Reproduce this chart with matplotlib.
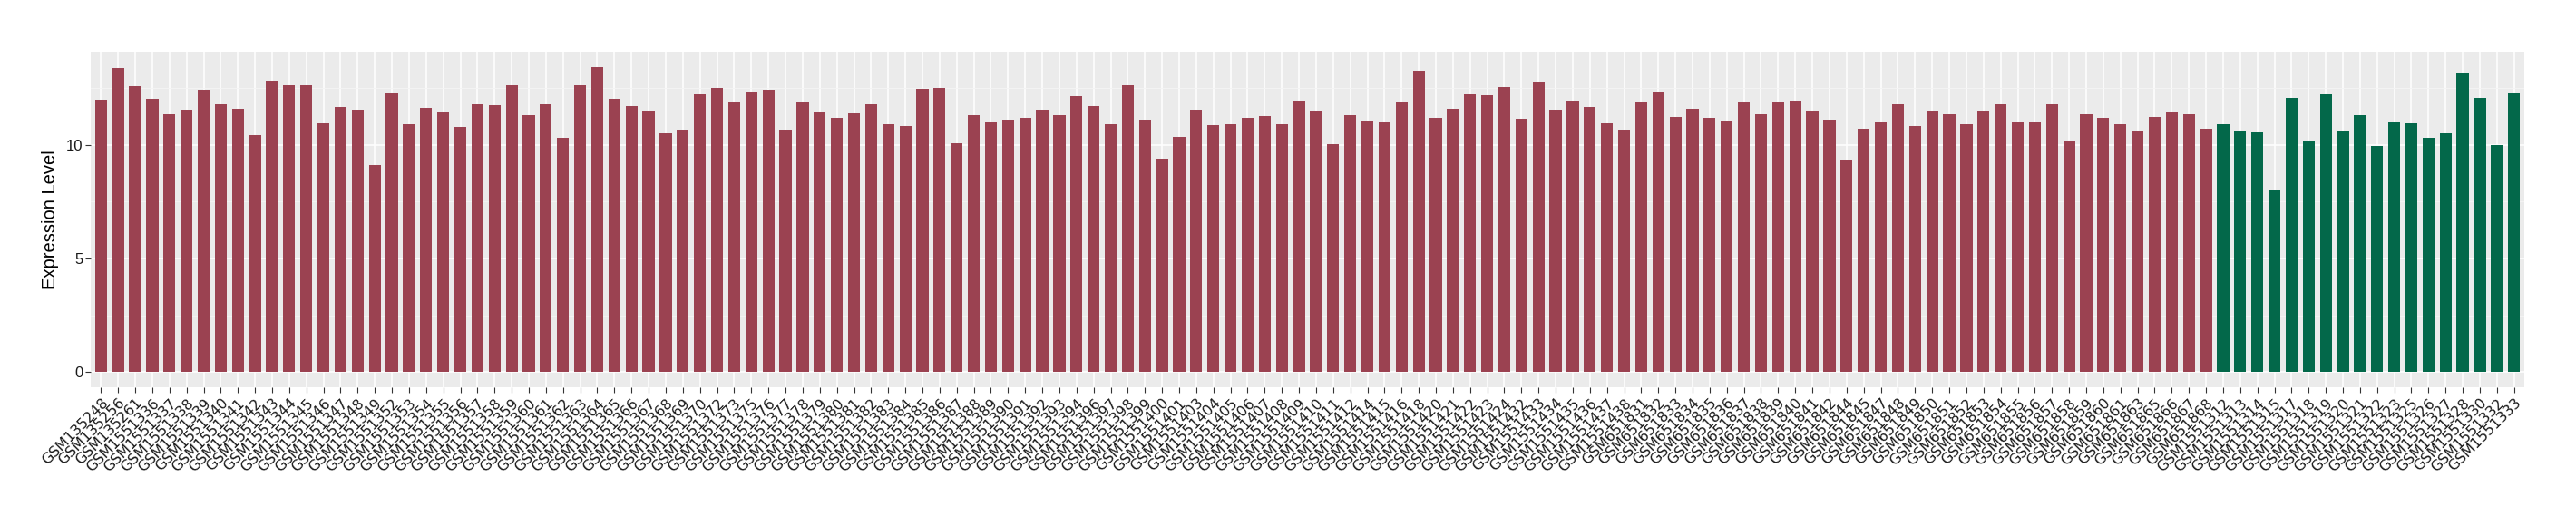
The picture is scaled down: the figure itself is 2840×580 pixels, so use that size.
import matplotlib
matplotlib.use("Agg")
import matplotlib.pyplot as plt
from matplotlib.ticker import MultipleLocator

samples = [
    "GSM135248", "GSM135256", "GSM135261", "GSM1551336", "GSM1551337", "GSM1551338",
    "GSM1551339", "GSM1551340", "GSM1551341", "GSM1551342", "GSM1551343", "GSM1551344",
    "GSM1551345", "GSM1551346", "GSM1551347", "GSM1551348", "GSM1551349", "GSM1551352",
    "GSM1551353", "GSM1551354", "GSM1551355", "GSM1551356", "GSM1551357", "GSM1551358",
    "GSM1551359", "GSM1551360", "GSM1551361", "GSM1551362", "GSM1551363", "GSM1551364",
    "GSM1551365", "GSM1551366", "GSM1551367", "GSM1551368", "GSM1551369", "GSM1551370",
    "GSM1551372", "GSM1551373", "GSM1551375", "GSM1551376", "GSM1551377", "GSM1551378",
    "GSM1551379", "GSM1551380", "GSM1551381", "GSM1551382", "GSM1551383", "GSM1551384",
    "GSM1551385", "GSM1551386", "GSM1551387", "GSM1551388", "GSM1551389", "GSM1551390",
    "GSM1551391", "GSM1551392", "GSM1551393", "GSM1551394", "GSM1551396", "GSM1551397",
    "GSM1551398", "GSM1551399", "GSM1551400", "GSM1551401", "GSM1551403", "GSM1551404",
    "GSM1551405", "GSM1551406", "GSM1551407", "GSM1551408", "GSM1551409", "GSM1551410",
    "GSM1551411", "GSM1551412", "GSM1551414", "GSM1551415", "GSM1551416", "GSM1551418",
    "GSM1551420", "GSM1551421", "GSM1551422", "GSM1551423", "GSM1551424", "GSM1551432",
    "GSM1551433", "GSM1551434", "GSM1551435", "GSM1551436", "GSM1551437", "GSM1551438",
    "GSM651831", "GSM651832", "GSM651833", "GSM651834", "GSM651835", "GSM651836",
    "GSM651837", "GSM651838", "GSM651839", "GSM651840", "GSM651841", "GSM651842",
    "GSM651844", "GSM651845", "GSM651847", "GSM651848", "GSM651849", "GSM651850",
    "GSM651851", "GSM651852", "GSM651853", "GSM651854", "GSM651855", "GSM651856",
    "GSM651857", "GSM651858", "GSM651859", "GSM651860", "GSM651861", "GSM651863",
    "GSM651865", "GSM651866", "GSM651867", "GSM651868",
    "GSM1551312", "GSM1551313", "GSM1551314", "GSM1551315", "GSM1551317", "GSM1551318",
    "GSM1551319", "GSM1551320", "GSM1551321", "GSM1551322", "GSM1551323", "GSM1551325",
    "GSM1551326", "GSM1551327", "GSM1551328", "GSM1551330", "GSM1551332", "GSM1551333",
]

values = [
    11.98, 13.40, 12.58, 12.02, 11.35, 11.55, 12.42, 11.79, 11.59, 10.41,
    12.84, 12.62, 12.62, 10.96, 11.67, 11.55, 9.11, 12.26, 10.92, 11.63,
    11.43, 10.77, 11.79, 11.75, 12.62, 11.31, 11.79, 10.29, 12.62, 13.44,
    12.02, 11.71, 11.51, 10.49, 10.65, 12.22, 12.50, 11.90, 12.34, 12.42,
    10.65, 11.90, 11.47, 11.20, 11.39, 11.79, 10.92, 10.81, 12.46, 12.50,
    10.05, 11.31, 11.04, 11.12, 11.20, 11.55, 11.31, 12.14, 11.71, 10.89,
    12.62, 11.12, 9.39, 10.33, 11.55, 10.85, 10.89, 11.20, 11.27, 10.89,
    11.94, 11.51, 10.01, 11.31, 11.08, 11.04, 11.86, 13.28, 11.20, 11.59,
    12.22, 12.18, 12.54, 11.16, 12.80, 11.55, 11.94, 11.67, 10.96, 10.65,
    11.90, 12.34, 11.24, 11.59, 11.20, 11.08, 11.86, 11.35, 11.86, 11.94,
    11.51, 11.12, 9.35, 10.69, 11.04, 11.79, 10.81, 11.51, 11.35, 10.92,
    11.51, 11.79, 11.04, 11.00, 11.79, 10.17, 11.35, 11.20, 10.89, 10.61,
    11.24, 11.47, 11.35, 10.69,
    10.92, 10.61, 10.57, 7.98, 12.06, 10.17, 12.22, 10.61, 11.31, 9.95,
    11.00, 10.96, 10.29, 10.49, 13.20, 12.06, 9.97, 12.26,
]

groups = ["A"] * 124 + ["B"] * 18
group_colors = {"A": "#9B4251", "B": "#03684A"}

fig = plt.figure(figsize=(28.4, 5.8), dpi=100)
ax = fig.add_axes([100 / 2840, 1 - 427 / 580, (2783 - 100) / 2840, (427 - 56.7) / 580])

ax.set_facecolor("#EBEBEB")
for s in ax.spines.values():
    s.set_visible(False)

x = list(range(len(samples)))
ax.bar(x, values, width=0.7, color=[group_colors[g] for g in groups], zorder=3)

ax.set_xlim(-0.6, len(samples) - 0.4)
ymax = max(values)
ax.set_ylim(-0.05 * ymax, ymax * 1.05)

ax.yaxis.set_major_locator(MultipleLocator(5))
ax.yaxis.set_minor_locator(MultipleLocator(2.5))
ax.grid(which="major", axis="both", color="white", linewidth=1.1, zorder=0)
ax.grid(which="minor", axis="y", color="#F5F5F5", linewidth=0.6, zorder=0)
ax.set_axisbelow(True)

ax.set_xticks(x)
ax.set_xticklabels(samples, rotation=45, ha="right", va="top", rotation_mode="anchor",
                   fontsize=11.4, family="DejaVu Sans", color="#1A1A1A")
ax.tick_params(axis="x", which="major", length=4, width=0.8, color="#333333", pad=3)
ax.tick_params(axis="y", which="major", length=4, width=0.8, color="#333333", pad=2,
               labelsize=12, labelcolor="#1A1A1A")
ax.tick_params(axis="y", which="minor", length=0)
for lab in ax.get_yticklabels():
    lab.set_family("Liberation Sans")

ax.set_ylabel("Expression Level", fontsize=14.5, family="Liberation Sans", color="black", labelpad=6)

fig.savefig("out.png", dpi=100, facecolor="white")
